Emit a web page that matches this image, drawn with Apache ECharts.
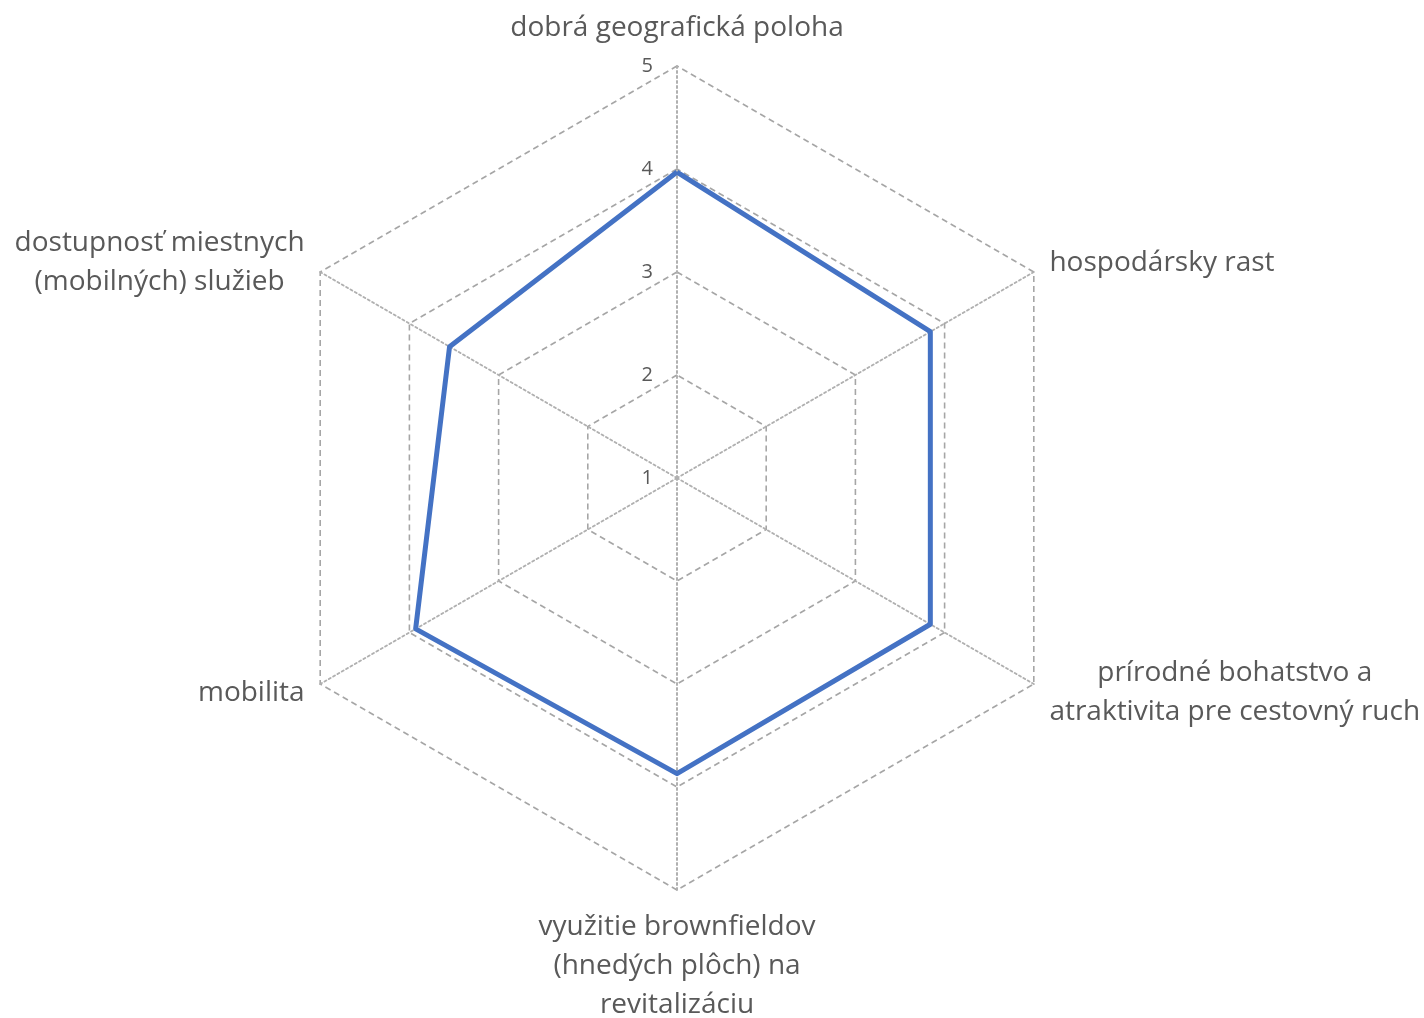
<!DOCTYPE html>
<html>
<head>
<meta charset="utf-8">
<title>radar</title>
<script src="https://cdn.jsdelivr.net/npm/echarts@6/dist/echarts.min.js"></script>
<style>
  html, body { margin: 0; padding: 0; background: #ffffff; }
  #chart { width: 1424px; height: 1018px; }
</style>
</head>
<body>
<div id="chart"></div>
<script>
// kategórie v poradí ako na obrázku (v smere hodinových ručičiek od vrchu)
var categories = [
    'dobrá geografická poloha',
    'hospodársky rast',
    'prírodné bohatstvo a\natraktivita pre cestovný ruch',
    'využitie brownfieldov\n(hnedých plôch) na\nrevitalizáciu',
    'mobilita',
    'dostupnosť miestnych\n(mobilných) služieb'
];
var values = [3.97, 3.84, 3.84, 3.87, 3.93, 3.55];
var scaleMin = 1;
var scaleMax = 5;

// echarts kreslí radar proti smeru hodín -> prvý nechať, zvyšok otočiť
var order = [0].concat([5, 4, 3, 2, 1]);

var textColor = '#595959';
var fontName = '"Open Sans", Lato, sans-serif';

var indicators = order.map(function (i, k) {
    var ind = { name: categories[i], min: scaleMin, max: scaleMax };
    if (k === 0) {
        ind.axisLabel = {
            show: true,
            color: textColor,
            fontSize: 20,
            fontFamily: fontName,
            margin: 24
        };
    }
    return ind;
});

var chartView = echarts.init(document.getElementById('chart'));
chartView.setOption({
    backgroundColor: '#ffffff',
    animation: false,
    radar: {
        center: [677, 478],
        radius: 412,
        startAngle: 90,
        shape: 'polygon',
        splitNumber: 4,
        indicator: indicators,
        nameGap: 18,
        axisName: {
            color: textColor,
            fontSize: 28,
            fontFamily: fontName,
            formatter: function (name) {
                return name.split('\n').map(function (s) { return '{c|' + s + '}'; }).join('\n');
            },
            rich: {
                c: { align: 'center', color: textColor, fontSize: 28, fontFamily: fontName, lineHeight: 39 }
            }
        },
        axisLabel: { show: false },
        axisTick: { show: false },
        splitArea: { show: false },
        splitLine: {
            lineStyle: { color: '#a6a6a6', width: 1.6, type: [6, 4] }
        },
        axisLine: {
            lineStyle: { color: '#b0b0b0', width: 2, type: [2, 3] }
        }
    },
    series: [{
        type: 'radar',
        symbol: 'none',
        lineStyle: { color: '#4472C4', width: 5 },
        data: [{ value: order.map(function (i) { return values[i]; }) }]
    }]
});
</script>
</body>
</html>
